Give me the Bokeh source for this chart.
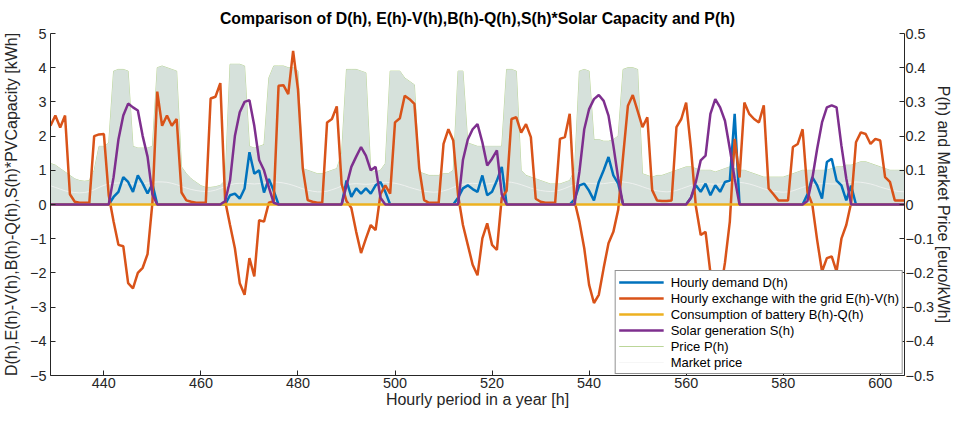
from bokeh.plotting import figure
from bokeh.models import Range1d, LinearAxis, Legend, LegendItem, FixedTicker
from bokeh.embed import file_html
from bokeh.resources import INLINE

hours = list(range(429, 606))

# E(h)-V(h): hourly exchange with the grid [kWh]
exchange = [
    2.3, 2.6, 2.25, 2.6, 0.3, 0.08, 0.05, 0.05, 0.05, 2.0,
    2.05, 2.06, 0.27, -0.5, -1.18, -1.22, -2.3, -2.45, -2.0, -1.85,
    -1.45, 0.05, 3.3, 2.3, 2.6, 2.3, 2.5, 0.35, 0.12, 0.08,
    0.05, 0.05, 0.05, 3.1, 3.15, 3.55, 0.1, -0.6, -1.28, -2.3,
    -2.64, -1.57, -2.1, -0.46, -0.5, 0.05, 0.1, 3.47, 3.49, 3.23,
    4.49, 3.37, 1.05, 0.13, 0.08, 0.05, 0.05, 2.4, 2.5, 2.87,
    0.6, 0.1, -0.1, -0.8, -1.42, -1.0, -0.6, -0.75, 0.3, 0.56,
    0.32, 2.4, 2.52, 3.18, 3.08, 2.94, 1.05, 0.13, 0.05, 0.05,
    0.05, 1.77, 2.2, 1.87, 0.27, -0.6, -1.18, -1.76, -2.07, -0.99,
    -0.55, -1.18, -1.33, 0.2, 0.4, 2.5, 2.55, 2.1, 2.35, 1.97,
    0.17, 0.08, 0.05, 0.05, 0.05, 1.92, 1.97, 2.65, 0.1, -0.5,
    -1.28, -2.35, -2.88, -2.64, -1.86, -1.13, -0.8, -0.15, 1.4, 2.89,
    3.2, 2.74, 2.26, 2.55, 0.42, 0.12, 0.1, 0.1, 0.12, 2.26,
    2.5, 2.98, 1.63, -0.05, -0.89, -0.8, -2.0, -2.6, -2.6, -1.7,
    -0.5, 1.92, 0.79, 2.98, 2.65, 2.5, 2.4, 2.9, 0.47, 0.3,
    0.12, 0.12, 0.12, 1.68, 1.77, 2.2, 0.37, 0.0, -1.04, -1.96,
    -1.57, -1.52, -1.96, -1.0, -0.6, 0.05, 1.82, 2.11, 2.06, 1.77,
    1.92, 1.87, 0.8, 0.66, 0.12, 0.12, 0.12,
]

# D(h): hourly demand [kWh]
demand = [
    0, 0, 0, 0, 0, 0, 0, 0, 0, 0,
    0, 0, 0, 0.22, 0.37, 0.8, 0.66, 0.37, 0.85, 0.61,
    0.32, 0.6, 0, 0, 0, 0, 0, 0, 0, 0,
    0, 0, 0, 0, 0, 0, 0, 0.27, 0.32, 0.17,
    0.47, 1.53, 0.9, 1.0, 0.35, 0.75, 0.4, 0, 0, 0,
    0, 0, 0, 0, 0, 0, 0, 0, 0, 0,
    0, 0.7, 0.22, 0.47, 0.32, 0.47, 0.32, 0.56, 0.66, 0.37,
    0, 0, 0, 0, 0, 0, 0, 0, 0, 0,
    0, 0, 0, 0, 0.2, 0.47, 0.56, 0.45, 0.37, 0.85,
    0.27, 0.37, 0.7, 1.1, 0, 0, 0, 0, 0, 0,
    0, 0, 0, 0, 0, 0, 0, 0, 0.15, 0.56,
    0.61, 0.4, 0.12, 0.66, 1.0, 1.39, 0.85, 0.61, 0, 0,
    0, 0, 0, 0, 0, 0, 0, 0, 0, 0,
    0, 0, 0.2, 0.56, 0.37, 0.61, 0.27, 0.56, 0.37, 0.66,
    0.7, 2.65, 0, 0, 0, 0, 0, 0, 0, 0,
    0, 0, 0, 0, 0, 0, 0.3, 0.8, 0.56, 0.17,
    1.24, 1.34, 0.7, 0.56, 0.12, 0.55, 0, 0, 0, 0,
    0, 0, 0, 0, 0, 0, 0,
]

# S(h): solar generation [kWh]
solar = [
    0, 0, 0, 0, 0, 0, 0, 0, 0, 0,
    0, 0, 0, 0.8, 1.9, 2.6, 2.95, 2.84, 2.75, 2.0,
    1.4, 0.3, 0, 0, 0, 0, 0, 0, 0, 0,
    0, 0, 0, 0, 0, 0, 0.1, 0.7, 2.0, 2.7,
    3.0, 3.05, 2.3, 1.3, 1.0, 0.5, 0.05, 0, 0, 0,
    0, 0, 0, 0, 0, 0, 0, 0, 0, 0,
    0, 0.55, 1.1, 1.4, 1.68, 1.43, 1.0, 1.1, 0.2, 0,
    0, 0, 0, 0, 0, 0, 0, 0, 0, 0,
    0, 0, 0, 0, 0, 1.3, 1.9, 2.2, 2.35, 1.82,
    1.14, 1.34, 1.58, 0.3, 0, 0, 0, 0, 0, 0,
    0, 0, 0, 0, 0, 0, 0, 0, 0, 0.95,
    2.2, 2.79, 3.08, 3.2, 3.03, 2.6, 1.72, 0.76, 0, 0,
    0, 0, 0, 0, 0, 0, 0, 0, 0, 0,
    0, 0, 0.2, 0.66, 1.29, 1.43, 2.65, 3.08, 2.84, 2.45,
    1.63, 0.76, 0, 0, 0, 0, 0, 0, 0, 0,
    0, 0, 0, 0, 0, 0, 0.1, 0.76, 1.63, 2.4,
    2.84, 2.9, 2.84, 1.72, 0.76, 0, 0, 0, 0, 0,
    0, 0, 0, 0, 0, 0, 0,
]

# B(h)-Q(h): battery consumption [kWh]
battery = [0.0] * len(hours)

# P(h): price [euro/kWh] (filled area on right axis)
price = [
    0.12, 0.115, 0.105, 0.095, 0.085, 0.075, 0.07, 0.068, 0.07, 0.1,
    0.17, 0.17, 0.18, 0.39, 0.395, 0.395, 0.39, 0.17, 0.165, 0.165,
    0.165, 0.17, 0.40, 0.405, 0.40, 0.395, 0.39, 0.11, 0.09, 0.075,
    0.065, 0.055, 0.05, 0.05, 0.052, 0.056, 0.07, 0.41, 0.41, 0.41,
    0.405, 0.17, 0.165, 0.17, 0.175, 0.37, 0.405, 0.405, 0.405, 0.40,
    0.40, 0.39, 0.105, 0.1, 0.095, 0.09, 0.09, 0.095, 0.1, 0.105,
    0.15, 0.395, 0.395, 0.395, 0.39, 0.385, 0.1, 0.095, 0.1, 0.12,
    0.39, 0.39, 0.39, 0.37, 0.36, 0.35, 0.095, 0.09, 0.085, 0.085,
    0.085, 0.09, 0.09, 0.1, 0.39, 0.39, 0.18, 0.175, 0.17, 0.17,
    0.17, 0.17, 0.17, 0.17, 0.395, 0.395, 0.39, 0.1, 0.085, 0.08,
    0.075, 0.07, 0.065, 0.06, 0.06, 0.06, 0.065, 0.07, 0.1, 0.39,
    0.395, 0.39, 0.19, 0.19, 0.185, 0.185, 0.19, 0.2, 0.395, 0.4,
    0.4, 0.395, 0.09, 0.085, 0.08, 0.085, 0.085, 0.09, 0.095, 0.1,
    0.105, 0.11, 0.11, 0.105, 0.1, 0.1, 0.1, 0.095, 0.1, 0.105,
    0.11, 0.105, 0.1, 0.1, 0.095, 0.09, 0.085, 0.08, 0.08, 0.08,
    0.08, 0.08, 0.085, 0.09, 0.095, 0.1, 0.1, 0.1, 0.1, 0.1,
    0.1, 0.105, 0.11, 0.11, 0.115, 0.115, 0.12, 0.125, 0.125, 0.12,
    0.115, 0.11, 0.105, 0.1, 0.1, 0.1, 0.1,
]

# Market price [euro/kWh]
market = [
    0.055, 0.05, 0.045, 0.04, 0.037, 0.035, 0.034, 0.035, 0.038, 0.043, 0.05, 0.056,
    0.06, 0.062, 0.063, 0.063, 0.062, 0.06, 0.06, 0.061, 0.063, 0.065, 0.066, 0.066,
    0.065, 0.062, 0.058, 0.053, 0.048, 0.044, 0.041, 0.039, 0.038, 0.039, 0.042, 0.047,
    0.053, 0.058, 0.061, 0.062, 0.062, 0.061, 0.06, 0.061, 0.063, 0.065, 0.066, 0.065,
    0.063, 0.06, 0.056, 0.051, 0.046, 0.042, 0.039, 0.037, 0.037, 0.039, 0.043, 0.048,
    0.054, 0.058, 0.06, 0.061, 0.06, 0.059, 0.06, 0.062, 0.064, 0.065, 0.064, 0.062,
    0.059, 0.055, 0.05, 0.046, 0.042, 0.039, 0.037, 0.036, 0.037, 0.04, 0.044, 0.05,
    0.055, 0.059, 0.061, 0.062, 0.061, 0.06, 0.06, 0.062, 0.064, 0.066, 0.066, 0.065,
    0.062, 0.058, 0.053, 0.048, 0.044, 0.041, 0.039, 0.038, 0.039, 0.042, 0.047, 0.053,
    0.058, 0.061, 0.062, 0.062, 0.061, 0.06, 0.061, 0.063, 0.065, 0.066, 0.066, 0.064,
    0.061, 0.057, 0.052, 0.047, 0.043, 0.04, 0.038, 0.037, 0.038, 0.041, 0.046, 0.051,
    0.056, 0.059, 0.061, 0.061, 0.06, 0.059, 0.06, 0.062, 0.064, 0.065, 0.065, 0.063,
    0.06, 0.056, 0.051, 0.046, 0.042, 0.039, 0.037, 0.036, 0.037, 0.04, 0.045, 0.05,
    0.055, 0.058, 0.06, 0.061, 0.061, 0.06, 0.06, 0.062, 0.064, 0.065, 0.066, 0.065,
    0.063, 0.06, 0.056, 0.051, 0.047, 0.043, 0.04, 0.038, 0.037,
]

x_ticks = [440, 460, 480, 500, 520, 540, 560, 580, 600]
left_ticks = [-5, -4, -3, -2, -1, 0, 1, 2, 3, 4, 5]
right_ticks = [-0.5, -0.4, -0.3, -0.2, -0.1, 0, 0.1, 0.2, 0.3, 0.4, 0.5]

FONT = "Liberation Sans"
AX = "#262626"

p = figure(width=954, height=410, output_backend="svg", toolbar_location=None,
           x_range=Range1d(429, 605), y_range=Range1d(-5, 5),
           min_border_left=0, min_border_right=0, min_border_top=0,
           min_border_bottom=0)
p.extra_y_ranges = {"price": Range1d(-0.5, 0.5)}
p.grid.visible = False
p.outline_line_color = None
p.background_fill_color = "white"
p.border_fill_color = "white"

p.title.text = "Comparison of D(h), E(h)-V(h),B(h)-Q(h),S(h)*Solar Capacity and P(h)"
p.title.align = "center"
p.title.text_font = FONT
p.title.text_font_size = "15.8px"
p.title.text_font_style = "bold"
p.title.text_color = "black"
p.title.standoff = 14


def style_axis(ax, ticks, label):
    ax.ticker = FixedTicker(ticks=ticks)
    ax.axis_label = label
    ax.axis_label_text_font = FONT
    ax.axis_label_text_font_size = "16px"
    ax.axis_label_text_font_style = "normal"
    ax.axis_label_text_color = AX
    ax.major_label_text_font = FONT
    ax.major_label_text_font_size = "14.4px"
    ax.major_label_text_color = AX
    ax.axis_line_color = AX
    ax.major_tick_line_color = AX
    ax.major_tick_in = 5
    ax.major_tick_out = 0
    ax.minor_tick_line_color = None


style_axis(p.xaxis[0], x_ticks, "Hourly period in a year [h]")
p.xaxis[0].major_label_standoff = 2
p.xaxis[0].axis_label_standoff = 0
style_axis(p.yaxis[0], left_ticks, "D(h),E(h)-V(h),B(h)-Q(h),S(h)*PVCapacity [kWh]")
p.yaxis[0].major_label_standoff = 4
p.yaxis[0].axis_label_standoff = 7

right = LinearAxis(y_range_name="price")
style_axis(right, right_ticks, "P(h) and Market Price [euro/kWh]")
right.major_label_overrides = {0: "0"}
right.major_label_standoff = 1
right.axis_label_standoff = -2
p.add_layout(right, "right")

# price line (legend) under the price area
r_price = p.line(hours, price, y_range_name="price", line_color="#77AC30", line_width=0.5)
p.varea(x=hours, y1=0, y2=price, y_range_name="price", fill_color="#d6e1db")
r_market = p.line(hours, market, y_range_name="price", line_color="#f4f4f4", line_width=0.8)

r_d = p.line(hours, demand, line_color="#0072BD", line_width=2.5)
r_e = p.line(hours, exchange, line_color="#D95319", line_width=2.5)
r_b = p.line(hours, battery, line_color="#EDB120", line_width=2.5)
r_s = p.line(hours, solar, line_color="#7E2F8E", line_width=2.5)

legend = Legend(items=[
    LegendItem(label="Hourly demand D(h)", renderers=[r_d]),
    LegendItem(label="Hourly exchange with the grid E(h)-V(h)", renderers=[r_e]),
    LegendItem(label="Consumption of battery B(h)-Q(h)", renderers=[r_b]),
    LegendItem(label="Solar generation S(h)", renderers=[r_s]),
    LegendItem(label="Price P(h)", renderers=[r_price]),
    LegendItem(label="Market price", renderers=[r_market]),
], location="bottom_right")
legend.margin = 1
legend.padding = 3
legend.spacing = 0
legend.glyph_width = 45
legend.glyph_height = 16
legend.label_height = 16
legend.label_standoff = 7
legend.label_text_font = FONT
legend.label_text_font_size = "13px"
legend.label_text_color = "black"
legend.border_line_color = AX
legend.border_line_width = 0.8
legend.background_fill_color = "white"
legend.background_fill_alpha = 1.0
p.add_layout(legend, "center")

open("out.html", "w").write(file_html(p, INLINE))
